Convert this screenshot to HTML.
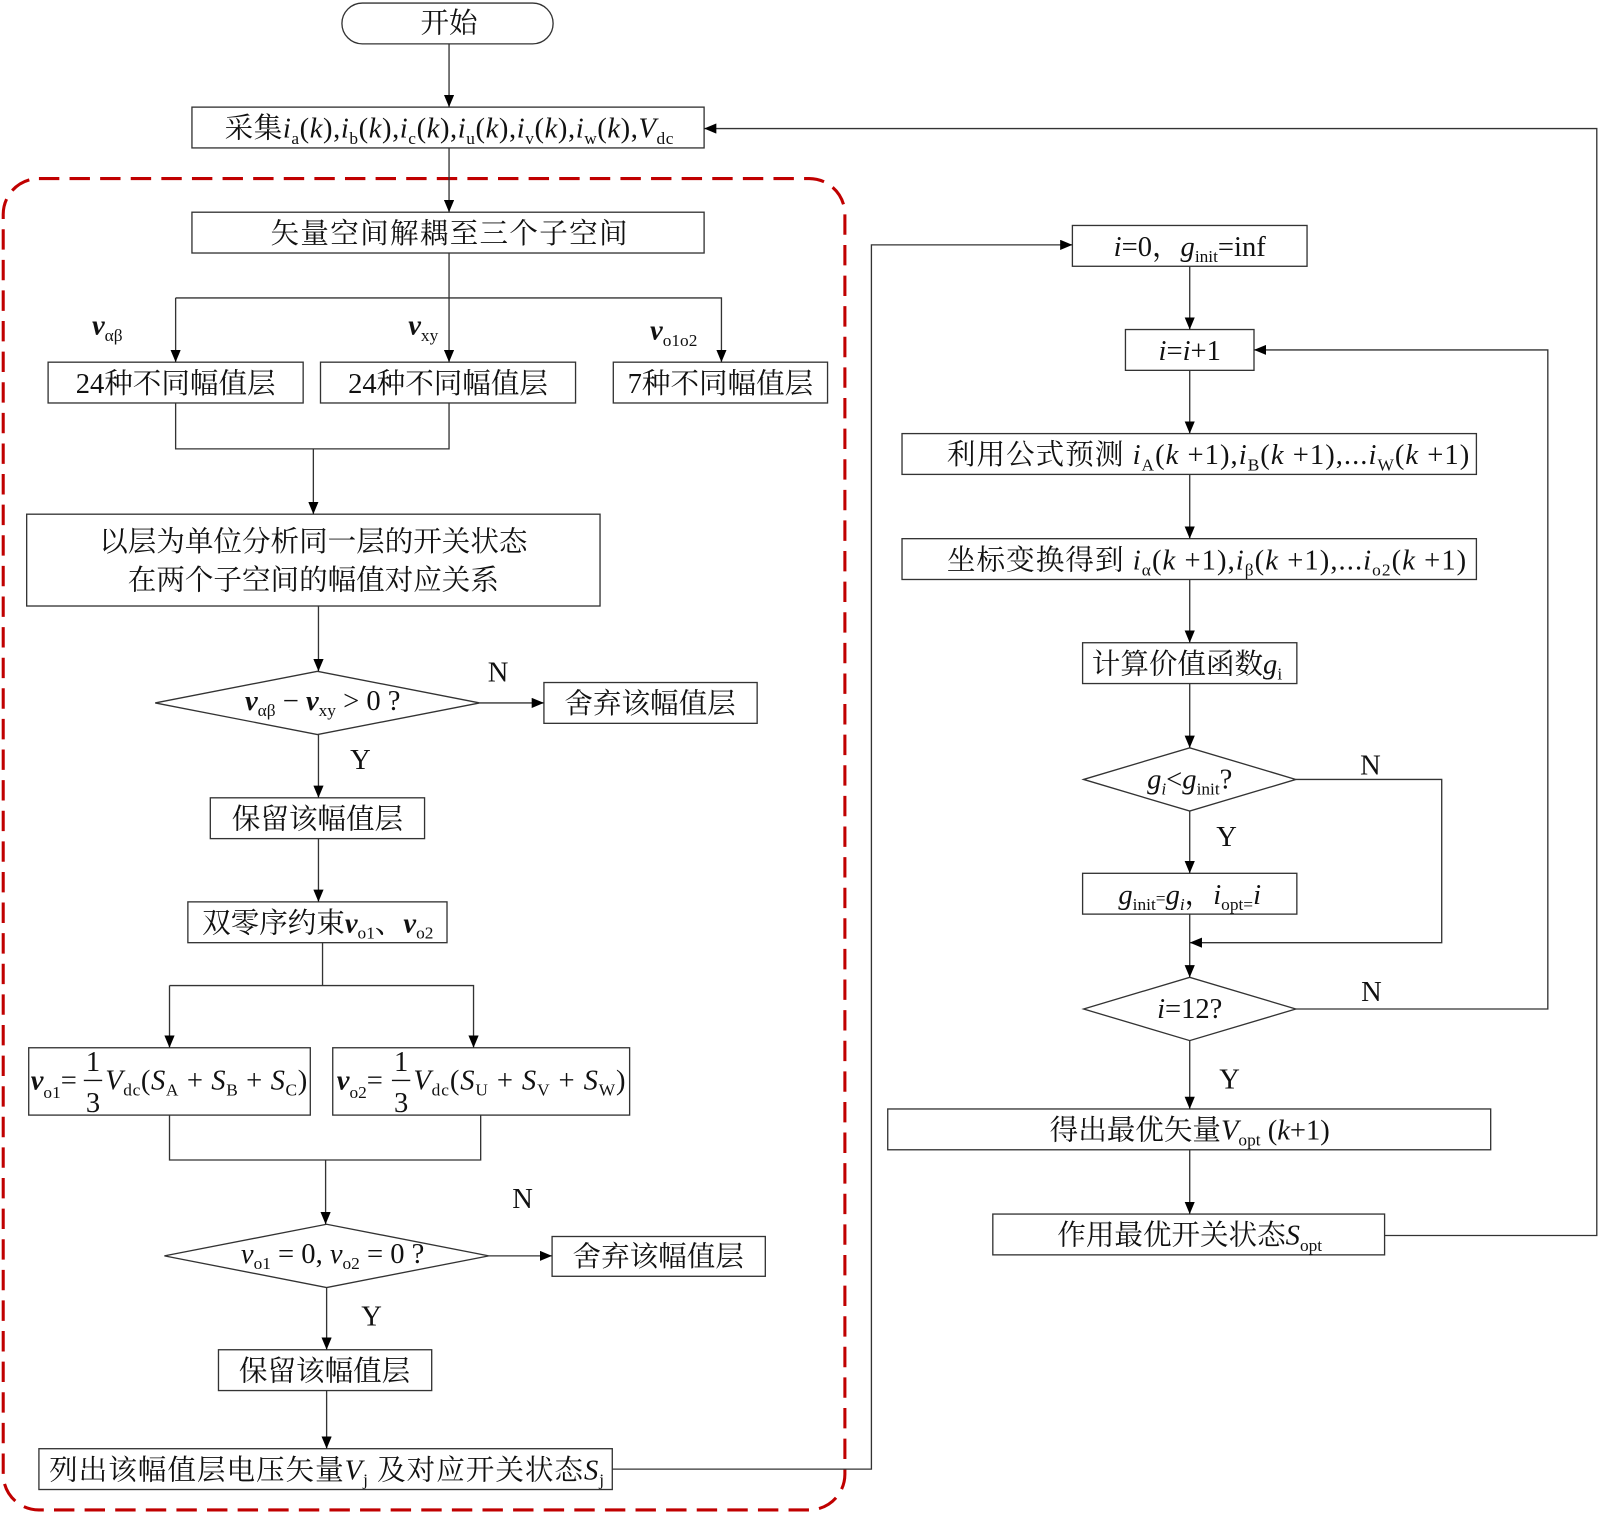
<!DOCTYPE html>
<html><head><meta charset="utf-8"><style>
html,body{margin:0;padding:0;background:#fff}
svg{display:block}
text{font-family:"Liberation Serif","Noto Serif CJK SC",serif;font-size:28px;fill:#111}
.s{font-size:17px}
.it{font-style:italic}
.b{font-weight:bold;font-style:italic}
</style></head><body>
<svg width="1600" height="1514" viewBox="0 0 1568 1484" xmlns="http://www.w3.org/2000/svg">
<defs><marker id="a" viewBox="0 0 12 10" refX="12" refY="5" markerWidth="12" markerHeight="10" markerUnits="userSpaceOnUse" orient="auto"><path d="M0,0L12,5L0,10z" fill="#000"/></marker></defs>
<g fill="none" stroke="#333" stroke-width="1.3">
<rect x="3" y="175" width="825" height="1305" rx="35" stroke="#c00000" stroke-width="3" stroke-dasharray="20 10"/>
<rect x="335" y="3" width="207" height="40" rx="20"/>
<rect x="188" y="105" width="502" height="40"/>
<rect x="188" y="208" width="502" height="40"/>
<rect x="47" y="355" width="250" height="40"/>
<rect x="314" y="355" width="250" height="40"/>
<rect x="601" y="355" width="210" height="40"/>
<rect x="26" y="504" width="562" height="90"/>
<path d="M152,689L311,658L470,689L311,720z"/>
<rect x="533" y="669" width="209" height="40"/>
<rect x="206" y="782" width="210" height="40"/>
<rect x="184" y="884" width="254" height="40"/>
<rect x="28" y="1027" width="276" height="66"/>
<rect x="326" y="1027" width="291" height="66"/>
<path d="M161,1231L320,1200L479,1231L320,1262z"/>
<rect x="541" y="1212" width="209" height="39"/>
<rect x="214" y="1323" width="209" height="40"/>
<rect x="38" y="1420" width="562" height="40"/>
<rect x="1051" y="221" width="230" height="40"/>
<rect x="1103" y="323" width="126" height="40"/>
<rect x="884" y="425" width="563" height="40"/>
<rect x="884" y="528" width="563" height="40"/>
<rect x="1061" y="630" width="210" height="40"/>
<path d="M1062,764L1166,733L1270,764L1166,795z"/>
<rect x="1061" y="856" width="210" height="40"/>
<path d="M1062,989L1166,958L1270,989L1166,1020z"/>
<rect x="870" y="1087" width="591" height="40"/>
<rect x="973" y="1190" width="384" height="40"/>
</g>
<g fill="none" stroke="#333" stroke-width="1.3" marker-end="url(#a)">
<path d="M440,43V105"/>
<path d="M440,145V208"/>
<path d="M440,248V355"/>
<path d="M172,292H707V355"/>
<path d="M172,292V355"/>
<path d="M307,440V504"/>
<path d="M312,594V658"/>
<path d="M470,689H533"/>
<path d="M312,720V782"/>
<path d="M312,822V884"/>
<path d="M166,966H464V1027"/>
<path d="M166,966V1027"/>
<path d="M319,1137V1200"/>
<path d="M479,1231H541"/>
<path d="M320,1262V1323"/>
<path d="M320,1363V1420"/>
<path d="M600,1440H854V240H1051"/>
<path d="M1166,261V323"/>
<path d="M1166,363V425"/>
<path d="M1166,465V528"/>
<path d="M1166,568V630"/>
<path d="M1166,670V733"/>
<path d="M1270,764H1413V924H1166"/>
<path d="M1166,795V856"/>
<path d="M1166,896V958"/>
<path d="M1270,989H1517V343H1229"/>
<path d="M1166,1020V1087"/>
<path d="M1166,1127V1190"/>
<path d="M1357,1211H1565V126H690"/>
</g>
<g fill="none" stroke="#333" stroke-width="1.3">
<path d="M316,924V966"/>
<path d="M172,395V440H440V395"/>
<path d="M166,1093V1137H471V1093"/>
</g>
<text x="440" y="32" text-anchor="middle">开始</text>
<text x="220" y="135" textLength="440" lengthAdjust="spacing">采集<tspan class="it">i</tspan><tspan class="s" dy="6">a</tspan><tspan dy="-6">(</tspan><tspan class="it">k</tspan>),<tspan class="it">i</tspan><tspan class="s" dy="6">b</tspan><tspan dy="-6">(</tspan><tspan class="it">k</tspan>),<tspan class="it">i</tspan><tspan class="s" dy="6">c</tspan><tspan dy="-6">(</tspan><tspan class="it">k</tspan>),<tspan class="it">i</tspan><tspan class="s" dy="6">u</tspan><tspan dy="-6">(</tspan><tspan class="it">k</tspan>),<tspan class="it">i</tspan><tspan class="s" dy="6">v</tspan><tspan dy="-6">(</tspan><tspan class="it">k</tspan>),<tspan class="it">i</tspan><tspan class="s" dy="6">w</tspan><tspan dy="-6">(</tspan><tspan class="it">k</tspan>),<tspan class="it">V</tspan><tspan class="s" dy="6">dc</tspan></text>
<text x="265" y="238" textLength="350" lengthAdjust="spacing">矢量空间解耦至三个子空间</text>
<text x="90" y="328" class="b">v<tspan class="s" dy="6" style="font-weight:normal;font-style:normal">αβ</tspan></text>
<text x="400" y="328" class="b">v<tspan class="s" dy="6" style="font-weight:normal;font-style:normal">xy</tspan></text>
<text x="637" y="333" class="b">v<tspan class="s" dy="6" style="font-weight:normal;font-style:normal">o1o2</tspan></text>
<text x="172" y="385" text-anchor="middle">24种不同幅值层</text>
<text x="439" y="385" text-anchor="middle">24种不同幅值层</text>
<text x="706" y="385" text-anchor="middle">7种不同幅值层</text>
<text x="307" y="540" text-anchor="middle">以层为单位分析同一层的开关状态</text>
<text x="307" y="578" text-anchor="middle">在两个子空间的幅值对应关系</text>
<text x="240" y="696"><tspan class="b">v</tspan><tspan class="s" dy="6">αβ</tspan><tspan dy="-6"> − </tspan><tspan class="b">v</tspan><tspan class="s" dy="6">xy</tspan><tspan dy="-6"> &gt; 0    ?</tspan></text>
<text x="478" y="668">N</text>
<text x="637" y="699" text-anchor="middle">舍弃该幅值层</text>
<text x="343" y="754">Y</text>
<text x="311" y="812" text-anchor="middle">保留该幅值层</text>
<text x="198" y="914">双零序约束<tspan class="b">v</tspan><tspan class="s" dy="6">o1</tspan><tspan dy="-6">、</tspan><tspan class="b">v</tspan><tspan class="s" dy="6">o2</tspan></text>
<text x="30" y="1068"><tspan class="b">v</tspan><tspan class="s" dy="8">o1</tspan><tspan dy="-8">=</tspan></text>
<text x="84" y="1050">1</text><text x="84" y="1090">3</text>
<path d="M82,1059H100" stroke="#111" stroke-width="1.3"/>
<text x="103" y="1068" textLength="198" lengthAdjust="spacing"><tspan class="it">V</tspan><tspan class="s" dy="6">dc</tspan><tspan dy="-6">(</tspan><tspan class="it">S</tspan><tspan class="s" dy="6">A</tspan><tspan dy="-6"> + </tspan><tspan class="it">S</tspan><tspan class="s" dy="6">B</tspan><tspan dy="-6"> + </tspan><tspan class="it">S</tspan><tspan class="s" dy="6">C</tspan><tspan dy="-6">)</tspan></text>
<text x="330" y="1068"><tspan class="b">v</tspan><tspan class="s" dy="8">o2</tspan><tspan dy="-8">=</tspan></text>
<text x="386" y="1050">1</text><text x="386" y="1090">3</text>
<path d="M384,1059H402" stroke="#111" stroke-width="1.3"/>
<text x="405" y="1068" textLength="208" lengthAdjust="spacing"><tspan class="it">V</tspan><tspan class="s" dy="6">dc</tspan><tspan dy="-6">(</tspan><tspan class="it">S</tspan><tspan class="s" dy="6">U</tspan><tspan dy="-6"> + </tspan><tspan class="it">S</tspan><tspan class="s" dy="6">V</tspan><tspan dy="-6"> + </tspan><tspan class="it">S</tspan><tspan class="s" dy="6">W</tspan><tspan dy="-6">)</tspan></text>
<text x="236" y="1238"><tspan class="it">v</tspan><tspan class="s" dy="6">o1</tspan><tspan dy="-6"> = 0, </tspan><tspan class="it">v</tspan><tspan class="s" dy="6">o2</tspan><tspan dy="-6"> = 0   ?</tspan></text>
<text x="502" y="1184">N</text>
<text x="645" y="1241" text-anchor="middle">舍弃该幅值层</text>
<text x="354" y="1299">Y</text>
<text x="318" y="1353" text-anchor="middle">保留该幅值层</text>
<text x="48" y="1450" textLength="544" lengthAdjust="spacing">列出该幅值层电压矢量<tspan class="it">V</tspan><tspan class="s" dy="6">j</tspan><tspan dy="-6"> 及对应开关状态</tspan><tspan class="it">S</tspan><tspan class="s" dy="6">j</tspan></text>
<text x="1166" y="251" text-anchor="middle"><tspan class="it">i</tspan>=0，<tspan class="it">g</tspan><tspan class="s" dy="6">init</tspan><tspan dy="-6">=inf</tspan></text>
<text x="1166" y="353" text-anchor="middle"><tspan class="it">i</tspan>=<tspan class="it">i</tspan>+1</text>
<text x="928" y="455" textLength="512" lengthAdjust="spacing">利用公式预测 <tspan class="it">i</tspan><tspan class="s" dy="6">A</tspan><tspan dy="-6">(</tspan><tspan class="it">k</tspan> +1),<tspan class="it">i</tspan><tspan class="s" dy="6">B</tspan><tspan dy="-6">(</tspan><tspan class="it">k</tspan> +1),...<tspan class="it">i</tspan><tspan class="s" dy="6">W</tspan><tspan dy="-6">(</tspan><tspan class="it">k</tspan> +1)</text>
<text x="928" y="558" textLength="509" lengthAdjust="spacing">坐标变换得到 <tspan class="it">i</tspan><tspan class="s" dy="6">α</tspan><tspan dy="-6">(</tspan><tspan class="it">k</tspan> +1),<tspan class="it">i</tspan><tspan class="s" dy="6">β</tspan><tspan dy="-6">(</tspan><tspan class="it">k</tspan> +1),...<tspan class="it">i</tspan><tspan class="s" dy="6">o2</tspan><tspan dy="-6">(</tspan><tspan class="it">k</tspan> +1)</text>
<text x="1070" y="660">计算价值函数<tspan class="it">g</tspan><tspan class="s" dy="6">i</tspan></text>
<text x="1166" y="773" text-anchor="middle"><tspan class="it">g</tspan><tspan class="s it" dy="6">i</tspan><tspan dy="-6">&lt;</tspan><tspan class="it">g</tspan><tspan class="s" dy="6">init</tspan><tspan dy="-6">?</tspan></text>
<text x="1333" y="759">N</text>
<text x="1192" y="829">Y</text>
<text x="1166" y="886" text-anchor="middle"><tspan class="it">g</tspan><tspan class="s" dy="6">init</tspan><tspan dy="-6" class="s">=</tspan><tspan class="it">g</tspan><tspan class="s it" dy="6">i</tspan><tspan dy="-6">，</tspan><tspan class="it">i</tspan><tspan class="s" dy="6">opt=</tspan><tspan class="it" dy="-6">i</tspan></text>
<text x="1166" y="998" text-anchor="middle"><tspan class="it">i</tspan>=12?</text>
<text x="1334" y="981">N</text>
<text x="1195" y="1067">Y</text>
<text x="1166" y="1117" text-anchor="middle">得出最优矢量<tspan class="it">V</tspan><tspan class="s" dy="6">opt</tspan><tspan dy="-6"> (</tspan><tspan class="it">k</tspan>+1)</text>
<text x="1166" y="1220" text-anchor="middle">作用最优开关状态<tspan class="it">S</tspan><tspan class="s" dy="6">opt</tspan></text>
</svg>
</body></html>
